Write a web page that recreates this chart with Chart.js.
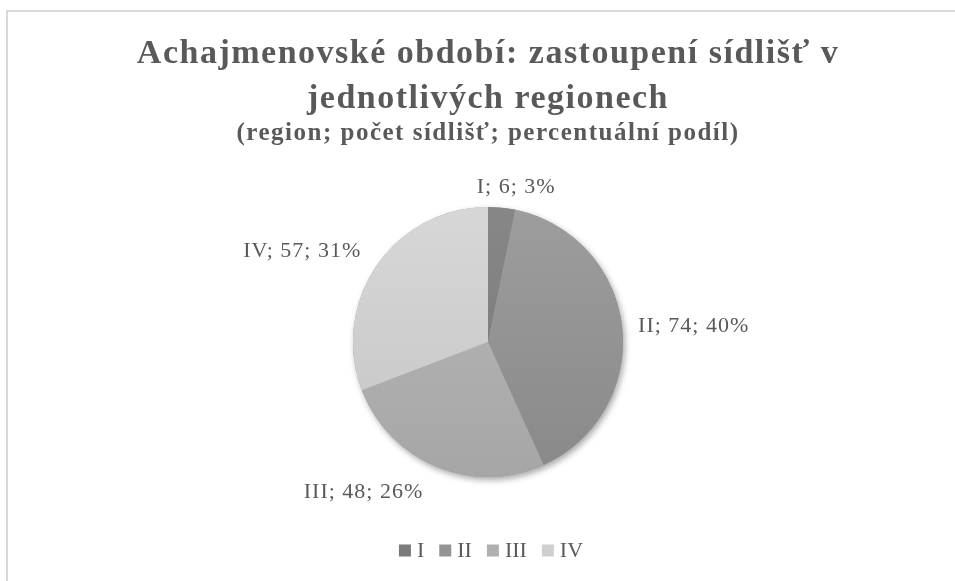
<!DOCTYPE html>
<html><head><meta charset="utf-8">
<script src="https://cdn.jsdelivr.net/npm/chart.js@4"></script>
<style>
html,body{margin:0;padding:0;background:#fff;overflow:hidden}
#wrap{position:relative;width:955px;height:581px}
#frame{position:absolute;left:6px;top:10px;width:1200px;height:900px;border-left:2px solid #d9d9d9;border-top:2px solid #d9d9d9;pointer-events:none}
</style></head><body>
<div id="wrap"><canvas id="c" width="955" height="581"></canvas><div id="frame"></div></div>
<script>
// ---- data ----
const titleLines = ['Achajmenovské období: zastoupení sídlišť v', 'jednotlivých regionech'];
const subtitleText = '(region; počet sídlišť; percentuální podíl)';
const regions = ['I', 'II', 'III', 'IV'];
const settlements = [6, 74, 48, 57];

// ---- styles ----
const FAMILY = '"Liberation Serif", "Times New Roman", serif';
const TEXT_COLOR = '#595959';
const sliceTop = ['#878787', '#9d9d9d', '#b9b9b9', '#d7d7d7'];
const sliceBottom = ['#777777', '#898989', '#a6a6a6', '#c5c5c5'];
const legendColors = ['#7b7b7b', '#959595', '#b0b0b0', '#cfcfcf'];
const labelNudge = [[13, 3], [2, 2], [-8, 3], [-4, -1]];

const total = settlements.reduce((a, b) => a + b, 0);

const textPlugin = {
  id: 'textSpacing',
  beforeDraw(chart) { chart.ctx.letterSpacing = '1.5px'; },
  beforeDatasetsDraw(chart) {
    const ctx = chart.ctx;
    ctx.letterSpacing = '0px';
    const arc = chart.getDatasetMeta(0).data[0];
    if (!arc) return;
    const p = arc.getProps(['x', 'y', 'outerRadius'], true);
    ctx.save();
    ctx.shadowColor = 'rgba(0,0,0,0.35)';
    ctx.shadowBlur = 6;
    ctx.shadowOffsetX = 2;
    ctx.shadowOffsetY = 3;
    ctx.fillStyle = '#999';
    ctx.beginPath();
    ctx.arc(p.x, p.y, p.outerRadius, 0, Math.PI * 2);
    ctx.fill();
    ctx.restore();
  },
  afterDatasetsDraw(chart) {
    const ctx = chart.ctx;
    const meta = chart.getDatasetMeta(0);
    ctx.save();
    ctx.font = '22px ' + FAMILY;
    ctx.fillStyle = TEXT_COLOR;
    ctx.letterSpacing = '1px';
    ctx.textBaseline = 'middle';
    meta.data.forEach((arc, i) => {
      const p = arc.getProps(['x', 'y', 'startAngle', 'endAngle', 'outerRadius'], true);
      const mid = (p.startAngle + p.endAngle) / 2;
      const c = Math.cos(mid), s = Math.sin(mid);
      const r = p.outerRadius + 14;
      const x = p.x + r * c + labelNudge[i][0];
      const y = p.y + r * s + s * 10 + labelNudge[i][1];
      ctx.textAlign = c > 0.3 ? 'left' : (c < -0.3 ? 'right' : 'center');
      const pct = Math.round(settlements[i] / total * 100);
      ctx.fillText(regions[i] + '; ' + settlements[i] + '; ' + pct + '%', x, y);
    });
    ctx.restore();
  },
  afterDraw(chart) {
    const ctx = chart.ctx;
    const area = chart.chartArea;
    ctx.save();
    ctx.letterSpacing = '0px';
    ctx.font = '22px ' + FAMILY;
    ctx.textBaseline = 'middle';
    ctx.textAlign = 'left';
    const box = 12, gapText = 6, gapItem = 15;
    const widths = regions.map(t => ctx.measureText(t).width);
    let totalW = widths.reduce((a, w) => a + box + gapText + w, 0) + gapItem * (regions.length - 1);
    const cx = (area.left + area.right) / 2 + 3;
    const cy = area.bottom + 73.5;
    let x = cx - totalW / 2;
    regions.forEach((t, i) => {
      ctx.fillStyle = legendColors[i];
      ctx.fillRect(x, cy - box / 2, box, box);
      ctx.fillStyle = TEXT_COLOR;
      ctx.fillText(t, x + box + gapText, cy + 1);
      x += box + gapText + widths[i] + gapItem;
    });
    ctx.restore();
  }
};

new Chart(document.getElementById('c'), {
  type: 'pie',
  data: {
    labels: regions,
    datasets: [{
      data: settlements,
      borderWidth: 0,
      backgroundColor: (context) => {
        const i = context.dataIndex;
        const area = context.chart.chartArea;
        if (!area || i === undefined) return sliceTop[i || 0];
        const g = context.chart.ctx.createLinearGradient(0, area.top, 0, area.bottom);
        g.addColorStop(0, sliceTop[i]);
        g.addColorStop(1, sliceBottom[i]);
        return g;
      }
    }]
  },
  options: {
    responsive: false,
    animation: false,
    events: [],
    layout: { padding: { left: 21, right: 0, top: 0, bottom: 104 } },
    plugins: {
      legend: { display: false },
      tooltip: { enabled: false },
      title: {
        display: true,
        text: titleLines,
        color: TEXT_COLOR,
        font: { family: FAMILY, size: 34, weight: 'bold', lineHeight: 1.3235 },
        padding: { top: 31.5, bottom: 0 }
      },
      subtitle: {
        display: true,
        text: subtitleText,
        color: TEXT_COLOR,
        font: { family: FAMILY, size: 25, weight: 'bold', lineHeight: 1 },
        padding: { top: 0, bottom: 60.5 }
      }
    }
  },
  plugins: [textPlugin]
});
</script>
</body></html>
